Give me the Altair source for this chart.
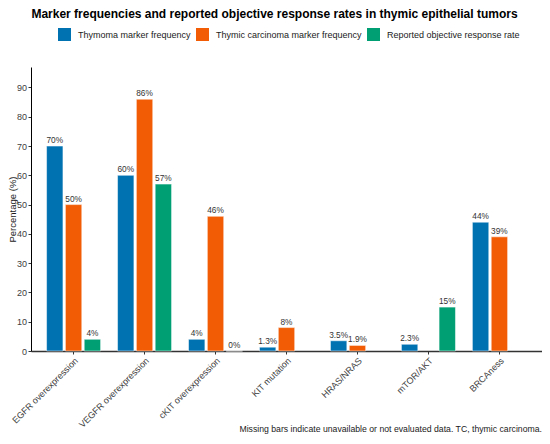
import altair as alt
import pandas as pd

markers = ["EGFR overexpression", "VEGFR overexpression", "cKIT overexpression",
           "KIT mutation", "HRAS/NRAS", "mTOR/AKT", "BRCAness"]
series = ["Thymoma marker frequency", "Thymic carcinoma marker frequency",
          "Reported objective response rate"]
thymoma = [70, 60, 4, 1.3, 3.5, 2.3, 44]
carcinoma = [50, 86, 46, 8, 1.9, None, 39]
orr = [4, 57, 0, None, None, 15, None]
colors = ["#0072B2", "#F25C05", "#009E73"]
y_ticks = [0, 10, 20, 30, 40, 50, 60, 70, 80, 90]
title_text = "Marker frequencies and reported objective response rates in thymic epithelial tumors"
caption_text = "Missing bars indicate unavailable or not evaluated data. TC, thymic carcinoma."

rows = []
for s, vals in zip(series, [thymoma, carcinoma, orr]):
    for m, v in zip(markers, vals):
        if v is None:
            continue
        rows.append({"marker": m, "series": s, "value": v, "label": f"{v:g}%"})
df = pd.DataFrame(rows)

FONT = "Liberation Sans"
W, H = 511, 284

base = alt.Chart(df).encode(
    x=alt.X("marker:N", sort=markers,
            scale=alt.Scale(domain=markers, paddingInner=0, paddingOuter=0.1),
            axis=alt.Axis(title=None, labelAngle=315, labelAlign="right", labelBaseline="top",
                          labelFontSize=9, labelColor="#404040", tickSize=3, tickColor="#333333",
                          domainColor="#333333", domainWidth=1.5, labelPadding=2,
                          labelOverlap=False, labelLimit=250)),
    xOffset=alt.XOffset("series:N", sort=series,
                        scale=alt.Scale(domain=series, paddingInner=0.13, paddingOuter=0.45)),
    y=alt.Y("value:Q", scale=alt.Scale(domain=[0, 97], nice=False, zero=True),
            axis=alt.Axis(title="Percentage (%)", values=y_ticks, grid=False, tickSize=3,
                          tickColor="#333333", domainColor="black", domainWidth=1,
                          labelFontSize=9, labelColor="#404040", labelPadding=1.5,
                          titleFontSize=9.5, titleFontWeight="normal", titleColor="#1a1a1a",
                          titleX=-18.5, titleY=142, titleBaseline="middle", titleAlign="center")),
)

bars = base.mark_bar(stroke="white", strokeWidth=0.5).encode(
    color=alt.Color("series:N", sort=series,
                    scale=alt.Scale(domain=series, range=colors),
                    legend=alt.Legend(title=None, orient="none", legendX=27, legendY=-39,
                                      direction="horizontal", symbolType="square",
                                      symbolSize=169, symbolStrokeWidth=0, labelFontSize=9,
                                      labelColor="#1a1a1a", labelOffset=7, columnPadding=5,
                                      padding=0, labelLimit=300))
)

labels = base.mark_text(baseline="bottom", dy=-1, fontSize=8.3, color="#333333").encode(
    text="label:N"
)

title_layer = alt.Chart(pd.DataFrame({"t": [title_text]})).mark_text(
    fontSize=12, fontWeight="bold", align="center", baseline="middle", color="black"
).encode(x=alt.value(243.5), y=alt.value(-53), text="t:N")

caption_layer = alt.Chart(pd.DataFrame({"t": [caption_text]})).mark_text(
    fontSize=8.7, align="right", baseline="middle", color="#1a1a1a"
).encode(x=alt.value(W), y=alt.value(362), text="t:N")

chart = alt.layer(bars, labels, title_layer, caption_layer).properties(
    width=W, height=H,
    autosize=alt.AutoSizeParams(type="none"),
    padding={"left": 23, "top": 59, "right": 0, "bottom": 85},
).configure(font=FONT).configure_view(stroke=None)

chart.save("out.html", embed_options={"renderer": "svg", "actions": False})
